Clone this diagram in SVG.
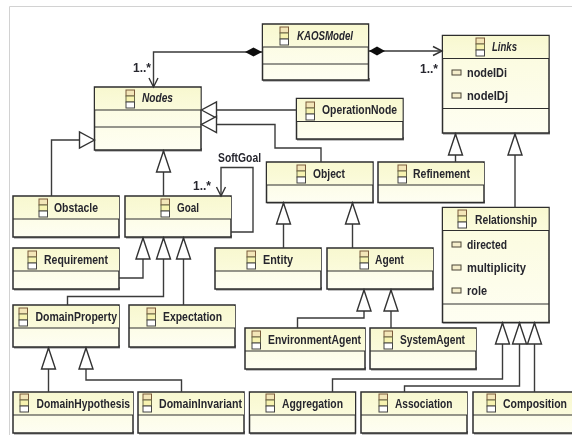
<svg xmlns="http://www.w3.org/2000/svg" width="572" height="435" viewBox="0 0 572 435">
<style>
.box{fill:url(#body);stroke:#2e2e2e;stroke-width:1.5}
.head{fill:url(#hd)}
.div{stroke:#2e2e2e;stroke-width:1.2;fill:none}
.shadow{fill:#555;opacity:.75}
.t{font-family:"Liberation Sans",Arial,sans-serif;font-weight:700;font-size:12px;fill:#26262e}
.i{font-style:italic}
.c{fill:none;stroke:#3a3a3a;stroke-width:1.4}
.tri{fill:#fff;stroke:#333;stroke-width:1.4}
.open{fill:none;stroke:#333;stroke-width:1.4}
</style>
<defs>
<linearGradient id="hd" x1="0" y1="0" x2="0" y2="1"><stop offset="0" stop-color="#f8f8d0"/><stop offset="1" stop-color="#fbfbdc"/></linearGradient>
<linearGradient id="body" x1="0" y1="0" x2="0" y2="1"><stop offset="0" stop-color="#fbfbdc"/><stop offset="1" stop-color="#fefef2"/></linearGradient>
<filter id="soft" x="0" y="0" width="100%" height="100%"><feGaussianBlur stdDeviation="0.35"/></filter>
<marker id="tv" markerUnits="userSpaceOnUse" markerWidth="24" markerHeight="18" refX="22" refY="9" orient="auto"><path class="tri" d="M22,9 L1,2 V16 Z"/></marker>
<marker id="th" markerUnits="userSpaceOnUse" markerWidth="20" markerHeight="20" refX="17" refY="10" orient="auto"><path class="tri" d="M17,10 L2,2 V18 Z"/></marker>
<marker id="oa" markerUnits="userSpaceOnUse" markerWidth="14" markerHeight="14" refX="12" refY="7" orient="auto"><path class="open" d="M3,2.5 L12,7 L3,11.5"/></marker>
<g id="icon"><rect x="0" y="0" width="8.5" height="6" fill="#f3e6b8" stroke="#7a5a3a"/><rect x="0" y="6" width="8.5" height="6" fill="#f7f3b0" stroke="#6a6a4a"/><rect x="0" y="12" width="8.5" height="6" fill="#fff" stroke="#444"/></g>
<rect id="attr" width="9" height="5" fill="#f5eecb" stroke="#4a4436"/>
</defs>
<g filter="url(#soft)">
<rect width="572" height="435" fill="#fff"/>
<path d="M572,6.5 H9.5 V435" fill="none" stroke="#d2d2d2" stroke-width="1"/>

<g id="n-kaos"><rect class="shadow" x="263" y="78" width="107" height="3.5"/><rect class="box" x="262.5" y="24" width="106" height="56"/><rect class="head" x="263" y="25" width="105" height="22"/><path class="div" d="M262.5,47H368.5M262.5,64H368.5"/><use href="#icon" x="280" y="27"/><text class="t i" x="297" y="40" textLength="56" lengthAdjust="spacingAndGlyphs">KAOSModel</text></g>
<g id="n-links"><rect class="shadow" x="443" y="131" width="107" height="3.5"/><rect class="box" x="442.5" y="35.5" width="106.5" height="97.5"/><rect class="head" x="443" y="36" width="105.5" height="22"/><path class="div" d="M442.5,58.5H549M442.5,108.5H549"/><use href="#icon" x="476" y="38"/><text class="t i" x="492" y="51" textLength="25" lengthAdjust="spacingAndGlyphs">Links</text><use href="#attr" x="452" y="70"/><text class="t" x="467" y="77" textLength="40" lengthAdjust="spacingAndGlyphs">nodeIDi</text><use href="#attr" x="452" y="93"/><text class="t" x="467" y="100" textLength="41" lengthAdjust="spacingAndGlyphs">nodeIDj</text></g>
<g id="n-nodes"><rect class="shadow" x="95" y="148" width="107" height="3.5"/><rect class="box" x="94.5" y="87" width="106.5" height="63"/><rect class="head" x="95" y="88" width="105.5" height="22"/><path class="div" d="M94.5,110H201M94.5,127H201"/><use href="#icon" x="126" y="90"/><text class="t i" x="142" y="102" textLength="31" lengthAdjust="spacingAndGlyphs">Nodes</text></g>
<g id="n-operation"><rect class="shadow" x="297" y="137" width="107" height="3.5"/><rect class="box" x="296.5" y="98.5" width="106.5" height="40.5"/><rect class="head" x="297" y="99" width="105.5" height="22"/><path class="div" d="M296.5,121.5H403"/><use href="#icon" x="306" y="102"/><text class="t" x="322" y="114" textLength="75" lengthAdjust="spacingAndGlyphs">OperationNode</text></g>
<g id="n-object"><rect class="shadow" x="267" y="200" width="107" height="3.5"/><rect class="box" x="266.5" y="162" width="106.5" height="40.5"/><rect class="head" x="267" y="163" width="105.5" height="22"/><path class="div" d="M266.5,185H373"/><use href="#icon" x="297" y="165"/><text class="t" x="313" y="178" textLength="32" lengthAdjust="spacingAndGlyphs">Object</text></g>
<g id="n-refinement"><rect class="shadow" x="379" y="200" width="106" height="3.5"/><rect class="box" x="378" y="162" width="106" height="40.5"/><rect class="head" x="379" y="163" width="105" height="22"/><path class="div" d="M378,185H484"/><use href="#icon" x="398" y="165"/><text class="t" x="413" y="178" textLength="57" lengthAdjust="spacingAndGlyphs">Refinement</text></g>
<g id="n-obstacle"><rect class="shadow" x="14" y="235" width="106" height="3.5"/><rect class="box" x="13" y="196" width="106" height="41"/><rect class="head" x="14" y="197" width="105" height="22"/><path class="div" d="M13,219H119"/><use href="#icon" x="39" y="199"/><text class="t" x="54" y="212" textLength="44" lengthAdjust="spacingAndGlyphs">Obstacle</text></g>
<g id="n-goal"><rect class="shadow" x="126" y="235" width="106" height="3.5"/><rect class="box" x="125" y="196" width="106" height="41"/><rect class="head" x="126" y="197" width="105" height="22"/><path class="div" d="M125,219H231"/><use href="#icon" x="161" y="199"/><text class="t" x="177" y="212" textLength="22" lengthAdjust="spacingAndGlyphs">Goal</text></g>
<g id="n-relationship"><rect class="shadow" x="443" y="320" width="107" height="3.5"/><rect class="box" x="442.5" y="207.5" width="106.5" height="115"/><rect class="head" x="443" y="208" width="105.5" height="22"/><path class="div" d="M442.5,230.5H549M442.5,304H549"/><use href="#icon" x="458" y="210"/><text class="t" x="475" y="224" textLength="62" lengthAdjust="spacingAndGlyphs">Relationship</text><use href="#attr" x="452" y="242"/><text class="t" x="467" y="249" textLength="40" lengthAdjust="spacingAndGlyphs">directed</text><use href="#attr" x="452" y="265"/><text class="t" x="467" y="272" textLength="59" lengthAdjust="spacingAndGlyphs">multiplicity</text><use href="#attr" x="452" y="288"/><text class="t" x="467" y="295" textLength="20" lengthAdjust="spacingAndGlyphs">role</text></g>
<g id="n-requirement"><rect class="shadow" x="14" y="287" width="106" height="3.5"/><rect class="box" x="13" y="248" width="106" height="41"/><rect class="head" x="14" y="249" width="105" height="22"/><path class="div" d="M13,271H119"/><use href="#icon" x="28" y="251"/><text class="t" x="44" y="264" textLength="64" lengthAdjust="spacingAndGlyphs">Requirement</text></g>
<g id="n-entity"><rect class="shadow" x="216" y="287" width="106" height="3.5"/><rect class="box" x="215" y="248" width="106" height="41"/><rect class="head" x="216" y="249" width="105" height="22"/><path class="div" d="M215,271H321"/><use href="#icon" x="247" y="251"/><text class="t" x="263" y="264" textLength="30" lengthAdjust="spacingAndGlyphs">Entity</text></g>
<g id="n-agent"><rect class="shadow" x="328" y="287" width="106" height="3.5"/><rect class="box" x="327" y="248" width="106" height="41"/><rect class="head" x="328" y="249" width="105" height="22"/><path class="div" d="M327,271H433"/><use href="#icon" x="360" y="251"/><text class="t" x="375" y="264" textLength="29" lengthAdjust="spacingAndGlyphs">Agent</text></g>
<g id="n-domainproperty"><rect class="shadow" x="14" y="345" width="106" height="3.5"/><rect class="box" x="13" y="305" width="106" height="42"/><rect class="head" x="14" y="306" width="105" height="22"/><path class="div" d="M13,328H119"/><use href="#icon" x="19" y="308"/><text class="t" x="35.5" y="321" textLength="81.5" lengthAdjust="spacingAndGlyphs">DomainProperty</text></g>
<g id="n-expectation"><rect class="shadow" x="130" y="345" width="106" height="3.5"/><rect class="box" x="129" y="305" width="106" height="42"/><rect class="head" x="130" y="306" width="105" height="22"/><path class="div" d="M129,328H235"/><use href="#icon" x="147" y="308"/><text class="t" x="163" y="321" textLength="59" lengthAdjust="spacingAndGlyphs">Expectation</text></g>
<g id="n-environmentagent"><rect class="shadow" x="246" y="367" width="120" height="3.5"/><rect class="box" x="245" y="328" width="120" height="41"/><rect class="head" x="246" y="329" width="119" height="22"/><path class="div" d="M245,351H365"/><use href="#icon" x="252" y="331"/><text class="t" x="268" y="344" textLength="93" lengthAdjust="spacingAndGlyphs">EnvironmentAgent</text></g>
<g id="n-systemagent"><rect class="shadow" x="371" y="367" width="106" height="3.5"/><rect class="box" x="370" y="328" width="106" height="41"/><rect class="head" x="371" y="329" width="105" height="22"/><path class="div" d="M370,351H476"/><use href="#icon" x="384" y="331"/><text class="t" x="400" y="344" textLength="65" lengthAdjust="spacingAndGlyphs">SystemAgent</text></g>
<g id="n-domainhypothesis"><rect class="shadow" x="14" y="431" width="120" height="3.5"/><rect class="box" x="13" y="392" width="120" height="41"/><rect class="head" x="14" y="393" width="119" height="22"/><path class="div" d="M13,415H133"/><use href="#icon" x="20" y="394"/><text class="t" x="36.5" y="408" textLength="93.5" lengthAdjust="spacingAndGlyphs">DomainHypothesis</text></g>
<g id="n-domaininvariant"><rect class="shadow" x="139" y="431" width="106" height="3.5"/><rect class="box" x="138" y="392" width="106" height="41"/><rect class="head" x="139" y="393" width="105" height="22"/><path class="div" d="M138,415H244"/><use href="#icon" x="143" y="394"/><text class="t" x="159" y="408" textLength="83" lengthAdjust="spacingAndGlyphs">DomainInvariant</text></g>
<g id="n-aggregation"><rect class="shadow" x="250" y="431" width="106" height="3.5"/><rect class="box" x="249.5" y="392" width="106" height="41"/><rect class="head" x="250" y="393" width="105" height="22"/><path class="div" d="M249.5,415H355.5"/><use href="#icon" x="266" y="394"/><text class="t" x="282" y="408" textLength="61" lengthAdjust="spacingAndGlyphs">Aggregation</text></g>
<g id="n-association"><rect class="shadow" x="362" y="431" width="106" height="3.5"/><rect class="box" x="361" y="392" width="106" height="41"/><rect class="head" x="362" y="393" width="105" height="22"/><path class="div" d="M361,415H467"/><use href="#icon" x="379" y="394"/><text class="t" x="395" y="408" textLength="57.5" lengthAdjust="spacingAndGlyphs">Association</text></g>
<g id="n-composition"><rect class="shadow" x="474" y="431" width="106" height="3.5"/><rect class="box" x="473" y="392" width="106" height="41"/><rect class="head" x="474" y="393" width="105" height="22"/><path class="div" d="M473,415H579"/><use href="#icon" x="487" y="394"/><text class="t" x="503" y="408" textLength="64" lengthAdjust="spacingAndGlyphs">Composition</text></g>

<g id="connectors">
<path class="c" d="M262,52 H153.5 V87" marker-end="url(#oa)"/>
<path d="M262,52 l-8.5,-4.5 l-8.5,4.5 l8.5,4.5 Z" fill="#111"/>
<path class="c" d="M369,51 H442" marker-end="url(#oa)"/>
<path d="M369,51 l8,-4.5 l8,4.5 l-8,4.5 Z" fill="#111"/>
<path class="c" d="M51.5,196 V140 H94.5" marker-end="url(#th)"/>
<path class="c" d="M163.5,196 V151" marker-end="url(#tv)"/>
<path class="c" d="M296.5,110 H201.5" marker-end="url(#th)"/>
<path class="c" d="M321,162 V148 H275 V124.5 H201.5" marker-end="url(#th)"/>
<path class="c" d="M231,232 H253 V167.5 H221 V196" marker-end="url(#oa)"/>
<path class="c" d="M119,278 H143 V238" marker-end="url(#tv)"/>
<path class="c" d="M67.5,305 V296.5 H163.5 V238" marker-end="url(#tv)"/>
<path class="c" d="M183.5,305 V238" marker-end="url(#tv)"/>
<path class="c" d="M283.5,248 V203" marker-end="url(#tv)"/>
<path class="c" d="M352.5,248 V203" marker-end="url(#tv)"/>
<path class="c" d="M455.5,162 V134" marker-end="url(#tv)"/>
<path class="c" d="M515,207.5 V134" marker-end="url(#tv)"/>
<path class="c" d="M297.5,328 V318 H364 V290" marker-end="url(#tv)"/>
<path class="c" d="M391,328 V290" marker-end="url(#tv)"/>
<path class="c" d="M332.5,392 V379 H502.5 V323" marker-end="url(#tv)"/>
<path class="c" d="M404.5,392 V386 H519.5 V323" marker-end="url(#tv)"/>
<path class="c" d="M534.5,392 V323" marker-end="url(#tv)"/>
<path class="c" d="M48.5,392 V348" marker-end="url(#tv)"/>
<path class="c" d="M181.5,392 V380 H86 V348" marker-end="url(#tv)"/>
<text class="t" x="133" y="72" textLength="18" lengthAdjust="spacingAndGlyphs">1..*</text>
<text class="t" x="420" y="73" textLength="18" lengthAdjust="spacingAndGlyphs">1..*</text>
<text class="t" x="193" y="190" textLength="18" lengthAdjust="spacingAndGlyphs">1..*</text>
<text class="t" x="218" y="162" textLength="43" lengthAdjust="spacingAndGlyphs">SoftGoal</text>
</g>
</g>
</svg>
